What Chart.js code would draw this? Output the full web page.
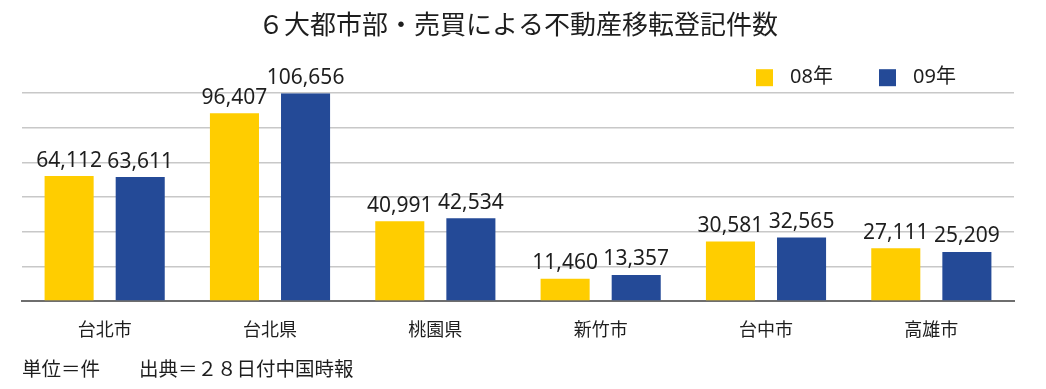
<!DOCTYPE html>
<html>
<head>
<meta charset="utf-8">
<script src="https://cdn.jsdelivr.net/npm/chart.js@4.4.1/dist/chart.umd.min.js"></script>
<style>
  html, body { margin: 0; padding: 0; background: #fff; }
  #wrap { width: 1046px; height: 389px; }
</style>
</head>
<body>
<div id="wrap"><canvas id="regChart"></canvas></div>
<script>
// data
const cities = ["台北市", "台北県", "桃園県", "新竹市", "台中市", "高雄市"];
const year08 = [64112, 96407, 40991, 11460, 30581, 27111];
const year09 = [63611, 106656, 42534, 13357, 32565, 25209];
const seriesNames = ["08年", "09年"];
const titleText = "６大都市部・売買による不動産移転登記件数";
const noteText = "単位＝件　　出典＝２８日付中国時報";

const YELLOW = "#FFCD00";
const BLUE = "#244A97";
const numFont = "'Noto Sans', 'Noto Sans CJK JP', sans-serif";
const jpFont = "'Noto Sans CJK JP', sans-serif";

const yMax = Math.max(...year08, ...year09);

// value labels above bars
const valueLabels = {
  id: "valueLabels",
  afterDatasetsDraw(chart) {
    const ctx = chart.ctx;
    ctx.save();
    ctx.font = "21px " + numFont;
    ctx.fillStyle = "#1e1e1e";
    ctx.textAlign = "center";
    ctx.textBaseline = "alphabetic";
    chart.data.datasets.forEach((ds, i) => {
      chart.getDatasetMeta(i).data.forEach((bar, j) => {
        ctx.fillText(ds.data[j].toLocaleString("en-US"), bar.x, bar.y - 9.5);
      });
    });
    ctx.restore();
  },
};

// legend in the top right corner
const cornerLegend = {
  id: "cornerLegend",
  afterDraw(chart) {
    const ctx = chart.ctx;
    const area = chart.chartArea;
    ctx.save();
    ctx.font = "20px " + numFont;
    ctx.textBaseline = "middle";
    ctx.textAlign = "left";
    let x = area.right - 258;
    const y = area.top - 15.5;
    chart.data.datasets.forEach((ds) => {
      ctx.fillStyle = ds.backgroundColor;
      ctx.fillRect(x, y - 8.5, 17, 17);
      ctx.fillStyle = "#1e1e1e";
      ctx.fillText(ds.label, x + 34, y);
      x += 123;
    });
    ctx.restore();
  },
};

new Chart("regChart", {
  type: "bar",
  data: {
    labels: cities,
    datasets: [
      { label: seriesNames[0], data: year08, backgroundColor: YELLOW },
      { label: seriesNames[1], data: year09, backgroundColor: BLUE },
    ],
  },
  options: {
    responsive: true,
    maintainAspectRatio: false,
    animation: false,
    categoryPercentage: 0.86,
    barPercentage: 0.69,
    layout: { padding: { left: 22, right: 32, top: 0, bottom: 0 } },
    scales: {
      x: {
        grid: { display: false, drawTicks: false },
        border: { display: true, color: "#6e6e6e", width: 2 },
        ticks: {
          color: "#1e1e1e",
          padding: 17,
          font: { family: jpFont, size: 18 },
        },
      },
      y: {
        min: 0,
        max: yMax,
        ticks: { display: false, count: 7 },
        border: { display: false },
        grid: { color: "#c8c8c8", lineWidth: 1.5, drawTicks: false },
      },
    },
    plugins: {
      legend: { display: false },
      tooltip: { enabled: false },
      title: {
        display: true,
        text: titleText,
        color: "#1e1e1e",
        font: { family: jpFont, size: 26, weight: "normal" },
        padding: { top: 9, bottom: 53 },
      },
      subtitle: {
        display: true,
        position: "bottom",
        align: "start",
        text: noteText,
        color: "#1e1e1e",
        font: { family: jpFont, size: 19.5, weight: "normal" },
        padding: { top: 0, bottom: 9 },
      },
    },
  },
  plugins: [valueLabels, cornerLegend],
});
</script>
</body>
</html>
